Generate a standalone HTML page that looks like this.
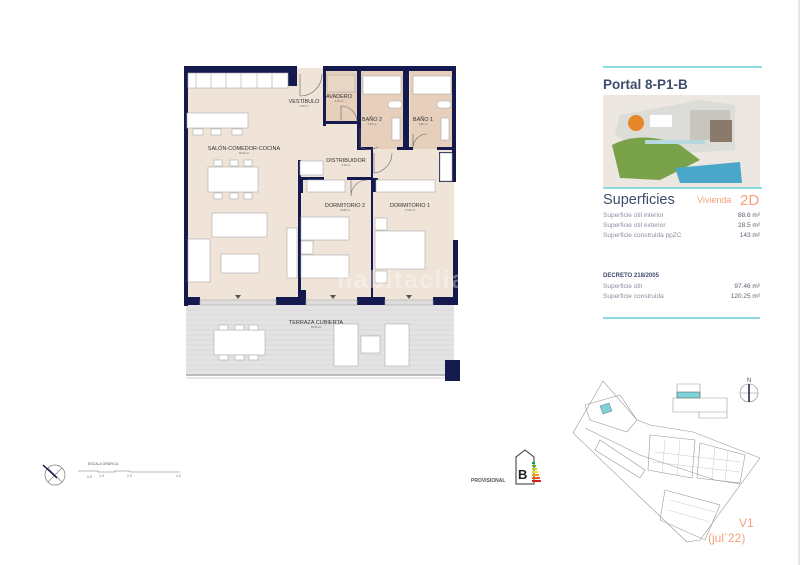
<!DOCTYPE html>
<html><head><meta charset="utf-8"><style>
html,body{margin:0;padding:0;background:#fff;}
svg{display:block;font-family:"Liberation Sans",sans-serif;}
</style></head><body>
<svg width="800" height="565" viewBox="0 0 800 565" xmlns="http://www.w3.org/2000/svg">
<rect width="800" height="565" fill="#fff"/>
<line x1="799" y1="0" x2="799" y2="565" stroke="#ccc" stroke-width="1"/>

<!-- ===== FLOOR PLAN ===== -->
<rect x="186" y="68" width="268" height="232" fill="#f0e4d8"/>
<rect x="325" y="70" width="32" height="52" fill="#e6d0bc"/>
<rect x="360" y="70" width="44" height="79" fill="#e6d0bc"/>
<rect x="410" y="70" width="43" height="79" fill="#e6d0bc"/>
<rect x="186" y="305" width="268" height="70" fill="#e3e3e3"/>
<g stroke="#d0d0d0" stroke-width="0.5">
<line x1="186" y1="310" x2="454" y2="310"/><line x1="186" y1="315" x2="454" y2="315"/><line x1="186" y1="320" x2="454" y2="320"/><line x1="186" y1="325" x2="454" y2="325"/><line x1="186" y1="330" x2="454" y2="330"/><line x1="186" y1="335" x2="454" y2="335"/><line x1="186" y1="340" x2="454" y2="340"/><line x1="186" y1="345" x2="454" y2="345"/><line x1="186" y1="350" x2="454" y2="350"/><line x1="186" y1="355" x2="454" y2="355"/><line x1="186" y1="360" x2="454" y2="360"/><line x1="186" y1="365" x2="454" y2="365"/><line x1="186" y1="370" x2="454" y2="370"/>
</g>
<rect x="186" y="374" width="262" height="2" fill="#bbb"/>
<line x1="186" y1="378" x2="448" y2="378" stroke="#ccc"/>

<g fill="#141a4e">
<rect x="184" y="66" width="113" height="7"/>
<rect x="288" y="66" width="9" height="20"/>
<rect x="323" y="66" width="133" height="5"/>
<rect x="184" y="66" width="4" height="240"/>
<rect x="452" y="66" width="4" height="87"/>
<rect x="439" y="152" width="17" height="30"/>
<rect x="453" y="240" width="5" height="60"/>
<rect x="184" y="181" width="4" height="10"/>
<rect x="184" y="297" width="16" height="8"/>
<rect x="276" y="297" width="30" height="8"/>
<rect x="357" y="297" width="28" height="8"/>
<rect x="433" y="297" width="25" height="8"/>
<rect x="299" y="290" width="7" height="10"/>
<rect x="323" y="66" width="3" height="60"/>
<rect x="323" y="121" width="35" height="3"/>
<rect x="357" y="66" width="4" height="84"/>
<rect x="403" y="66" width="6" height="84"/>
<rect x="357" y="147" width="16" height="3"/>
<rect x="397" y="147" width="16" height="3"/>
<rect x="437" y="147" width="19" height="3"/>
<rect x="371" y="150" width="2" height="150"/>
<rect x="300" y="177" width="24" height="3"/>
<rect x="347" y="177" width="26" height="3"/>
<rect x="298" y="160" width="3" height="140"/>
<rect x="298" y="177" width="5" height="16"/>
<rect x="372" y="178" width="6" height="14"/>
<rect x="445" y="360" width="15" height="21"/>
</g>
<g fill="none" stroke="#666" stroke-width="0.6">
<path d="M300 74 L300 96 A22 22 0 0 0 322 74"/>
<path d="M341 122 L341 106 A16 16 0 0 1 357 122"/>
<path d="M360 129 L360 147 A18 18 0 0 0 378 147"/>
<path d="M413 134 L413 148 A14 14 0 0 1 427 134"/>
<path d="M374 153 L374 173 A20 20 0 0 0 392 153"/>
<path d="M351 180 L351 196 A16 16 0 0 1 367 180"/>
</g>
<g fill="#fff" stroke="#aaa" stroke-width="0.6">
<rect x="188" y="73" width="100" height="15"/>
<line x1="196" y1="73" x2="196" y2="88"/><line x1="211" y1="73" x2="211" y2="88"/><line x1="226" y1="73" x2="226" y2="88"/><line x1="241" y1="73" x2="241" y2="88"/><line x1="257" y1="73" x2="257" y2="88"/><line x1="272" y1="73" x2="272" y2="88"/>
<rect x="187" y="113" width="61" height="15"/>
<rect x="193" y="129" width="10" height="6"/><rect x="211" y="129" width="10" height="6"/><rect x="232" y="129" width="10" height="6"/>
<rect x="208" y="167" width="50" height="25"/>
<rect x="214" y="160" width="8" height="6"/><rect x="230" y="160" width="8" height="6"/><rect x="244" y="160" width="8" height="6"/>
<rect x="214" y="193" width="8" height="6"/><rect x="230" y="193" width="8" height="6"/><rect x="244" y="193" width="8" height="6"/>
<rect x="212" y="213" width="55" height="24"/>
<rect x="188" y="239" width="22" height="43"/>
<rect x="221" y="254" width="38" height="19"/>
<rect x="287" y="228" width="10" height="50"/>
<rect x="300" y="161" width="23" height="14"/>
<rect x="307" y="180" width="38" height="12"/>
<rect x="301" y="217" width="48" height="23"/>
<rect x="301" y="241" width="12" height="13"/>
<rect x="301" y="255" width="48" height="23"/>
<rect x="376" y="180" width="59" height="12"/>
<rect x="440" y="153" width="12" height="28"/>
<rect x="375" y="218" width="12" height="12"/>
<rect x="375" y="231" width="50" height="38"/>
<rect x="375" y="271" width="12" height="12"/>
<rect x="363" y="76" width="38" height="18"/>
<rect x="413" y="76" width="38" height="18"/>
<rect x="392" y="118" width="8" height="22"/>
<rect x="441" y="118" width="8" height="22"/>
<rect x="388" y="101" width="14" height="7" rx="3"/>
<rect x="437" y="101" width="14" height="7" rx="3"/>
<rect x="327" y="75" width="28" height="17" fill="#e9d7c6"/>
<rect x="200" y="300" width="76" height="5" fill="#ddd"/>
<rect x="306" y="300" width="51" height="5" fill="#ddd"/>
<rect x="385" y="300" width="48" height="5" fill="#ddd"/>
<rect x="214" y="330" width="51" height="25"/>
<rect x="219" y="325" width="9" height="5"/><rect x="235" y="325" width="9" height="5"/><rect x="249" y="325" width="9" height="5"/>
<rect x="219" y="355" width="9" height="5"/><rect x="235" y="355" width="9" height="5"/><rect x="249" y="355" width="9" height="5"/>
<rect x="334" y="324" width="24" height="42"/>
<rect x="361" y="336" width="19" height="17"/>
<rect x="385" y="324" width="24" height="42"/>
</g>
<g fill="#555">
<path d="M235 295 L241 295 L238 299Z"/><path d="M330 295 L336 295 L333 299Z"/><path d="M406 295 L412 295 L409 299Z"/>
</g>
<g fill="#333" font-size="5.5" text-anchor="middle">
<text x="304" y="103">VESTÍBULO</text>
<text x="339" y="98">AVADERO</text>
<text x="372" y="121">BAÑO 2</text>
<text x="423" y="121">BAÑO 1</text>
<text x="244" y="150">SALÓN-COMEDOR-COCINA</text>
<text x="346" y="162">DISTRIBUIDOR</text>
<text x="345" y="207">DORMITORIO 2</text>
<text x="410" y="207">DORMITORIO 1</text>
<text x="316" y="324">TERRAZA CUBIERTA</text>
</g>
<g fill="#666" font-size="2.6" text-anchor="middle">
<text x="304" y="107">6.25 m²</text><text x="339" y="102">2.25 m²</text>
<text x="372" y="125">4.95 m²</text><text x="423" y="125">4.95 m²</text>
<text x="244" y="154">38.40 m²</text><text x="346" y="166">5.20 m²</text>
<text x="345" y="211">13.08 m²</text><text x="410" y="211">17.50 m²</text>
<text x="316" y="328">28.50 m²</text>
</g>
<text x="337" y="288" font-size="25" fill="#fff" fill-opacity="0.35" font-weight="bold" textLength="128">habitaclia</text>

<!-- ===== RIGHT PANEL ===== -->
<rect x="603" y="66" width="159" height="2" fill="#8ddbe0"/>
<text x="603" y="89" font-size="13.5" font-weight="bold" fill="#3d4d6e">Portal 8-P1-B</text>
<rect x="603" y="95" width="157" height="92" fill="#ece7e0"/>
<g>
<path d="M620 115 L700 100 L735 105 L735 150 L650 155 L615 135Z" fill="#dcdcd8"/>
<rect x="650" y="115" width="22" height="12" fill="#fff"/><rect x="690" y="110" width="40" height="30" fill="#c8c4be"/>
<rect x="710" y="120" width="22" height="22" fill="#8a7a6a"/>
<circle cx="636" cy="123" r="8" fill="#e8862a"/>
<path d="M612 145 Q640 130 680 145 L700 160 L660 180 L620 178Z" fill="#7aa24a"/>
<path d="M675 168 L740 162 L742 183 L680 183Z" fill="#4aa7c9"/>
<rect x="645" y="140" width="60" height="4" fill="#b8d8e0"/>
</g>
<rect x="603" y="187" width="159" height="2" fill="#8ddbe0"/>
<text x="603" y="204" font-size="14.5" fill="#3d4d6e">Superficies</text>
<text x="697" y="203" font-size="9" fill="#f4a07a">Vivienda</text>
<text x="740" y="205" font-size="15" fill="#f4a07a">2D</text>
<g font-size="6.5" fill="#8a90a0">
<text x="603" y="217">Superficie útil interior</text>
<text x="603" y="227">Superficie útil exterior</text>
<text x="603" y="237">Superficie construida ppZC</text>
<text x="603" y="288">Superficie útil</text>
<text x="603" y="298">Superficie construida</text>
</g>
<g font-size="6.5" fill="#5a6070" text-anchor="end">
<text x="760" y="217">88.6 m²</text><text x="760" y="227">28.5 m²</text><text x="760" y="237">143 m²</text>
<text x="760" y="288">97.46 m²</text><text x="760" y="298">120.25 m²</text>
</g>
<text x="603" y="277" font-size="6" font-weight="bold" fill="#3d4d6e">DECRETO 218/2005</text>
<rect x="603" y="317" width="157" height="2" fill="#8ddbe0"/>

<!-- ===== SITE MAP ===== -->
<g fill="none" stroke="#999" stroke-width="0.6">
<path d="M603 381 L637 420 L650 425 L693 432 L760 458 L700 540 L687 542 L573 433 Z"/>
<path d="M585 428 L640 455 L715 480 L740 484"/>
<path d="M600 440 L645 470 L640 478 L595 450Z"/>
<path d="M650 435 L695 440 L692 478 L648 470Z"/>
<path d="M700 443 L745 455 L740 483 L697 478Z"/>
<path d="M665 490 L720 505 L705 540 L660 520Z"/>
<path d="M585 405 L620 395 L637 420 L627 432 L590 420Z"/>
<path d="M677 384 L700 384 L700 398 L677 398Z M673 398 L727 398 L727 412 L673 412Z M699 412 L727 412 L727 418 L699 418Z"/>
</g>
<g stroke="#bbb" stroke-width="0.4">
<line x1="655" y1="452" x2="740" y2="462"/><line x1="652" y1="462" x2="740" y2="472"/><line x1="670" y1="500" x2="715" y2="512"/><line x1="668" y1="510" x2="710" y2="522"/>
<line x1="665" y1="440" x2="662" y2="475"/><line x1="680" y1="440" x2="677" y2="476"/><line x1="715" y1="446" x2="712" y2="480"/><line x1="728" y1="450" x2="725" y2="482"/>
</g>
<rect x="677" y="392" width="23" height="6" fill="#7fd3d8" stroke="#555" stroke-width="0.5"/>
<path d="M600 406 L609 403 L612 411 L603 414Z" fill="#7fd3d8" stroke="#555" stroke-width="0.4"/>
<circle cx="749" cy="393" r="9" fill="none" stroke="#888" stroke-width="0.6"/>
<line x1="740" y1="393" x2="758" y2="393" stroke="#888" stroke-width="0.6"/>
<line x1="749" y1="384" x2="749" y2="402" stroke="#141a4e" stroke-width="1.5"/>
<text x="749" y="382" font-size="6" fill="#555" text-anchor="middle">N</text>
<text x="739" y="527" font-size="12" fill="#f4a07a">V1</text>
<text x="708" y="542" font-size="12" fill="#f4a07a">(jul´22)</text>

<!-- ===== BOTTOM LEFT ===== -->
<circle cx="55" cy="475" r="10" fill="none" stroke="#777" stroke-width="0.7"/>
<line x1="48" y1="468" x2="62" y2="482" stroke="#777" stroke-width="0.6"/>
<line x1="62" y1="468" x2="48" y2="482" stroke="#777" stroke-width="0.6"/>
<line x1="43" y1="465" x2="57" y2="478" stroke="#141a4e" stroke-width="1.5"/>
<text x="88" y="465" font-size="3.5" fill="#555">ESCALA GRÁFICA</text>
<path d="M78 471 L98 471 L98 472 L115 472 L115 471 L130 471 L130 472 L180 472" fill="none" stroke="#777" stroke-width="0.6"/>
<g font-size="3.5" fill="#777"><text x="87" y="478">0.5</text><text x="99" y="477">1.0</text><text x="127" y="477">2.0</text><text x="176" y="477">4.0</text></g>
<text x="471" y="482" font-size="5" font-weight="bold" fill="#555">PROVISIONAL</text>
<path d="M516 473 L516 457 L525 450 L534 457 L534 484 L516 484Z" fill="#fff" stroke="#333" stroke-width="1"/>
<text x="518" y="479" font-size="13" font-weight="bold" fill="#222">B</text>
<g><rect x="532" y="462" width="3" height="2" fill="#1a9a3a"/><rect x="532" y="465" width="4" height="2" fill="#5ab43a"/><rect x="532" y="468" width="5" height="2" fill="#b8d230"/><rect x="532" y="471" width="6" height="2" fill="#f2e030"/><rect x="532" y="474" width="7" height="2" fill="#f4a020"/><rect x="532" y="477" width="8" height="2" fill="#e85a1a"/><rect x="532" y="480" width="9" height="2" fill="#d4201a"/></g>
</svg>
</body></html>
